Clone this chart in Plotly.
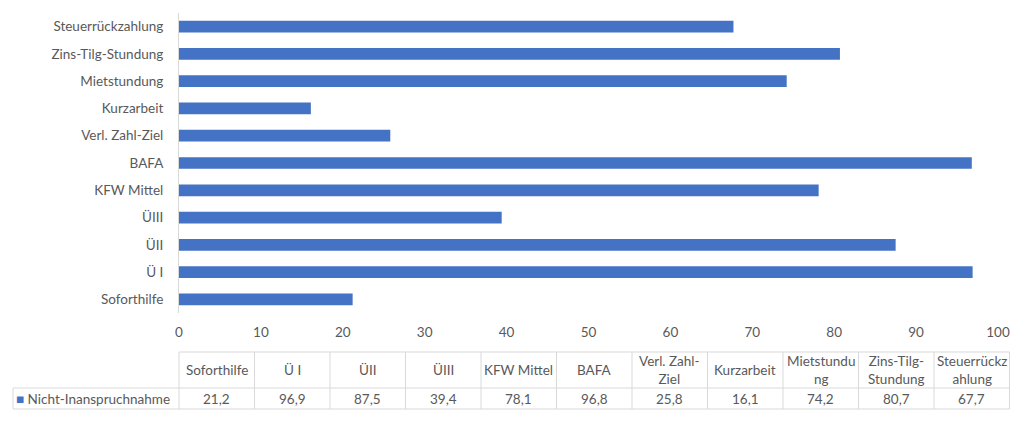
import plotly.graph_objects as go

categories = ["Soforthilfe", "Ü I", "ÜII", "ÜIII", "KFW Mittel", "BAFA",
              "Verl. Zahl-Ziel", "Kurzarbeit", "Mietstundung",
              "Zins-Tilg-Stundung", "Steuerrückzahlung"]
header_labels = ["Soforthilfe", "Ü I", "ÜII", "ÜIII", "KFW Mittel", "BAFA",
                 "Verl. Zahl-<br>Ziel", "Kurzarbeit", "Mietstundu<br>ng",
                 "Zins-Tilg-<br>Stundung", "Steuerrückz<br>ahlung"]
values = [21.2, 96.9, 87.5, 39.4, 78.1, 96.8, 25.8, 16.1, 74.2, 80.7, 67.7]
series_name = "Nicht-Inanspruchnahme"
x_ticks = [0, 10, 20, 30, 40, 50, 60, 70, 80, 90, 100]

BAR = "#4472C4"
TXT = "#595959"
GRID = "#d9d9d9"
FONT = "Lato"
FS = 13.5

W, H = 1024, 423
L, R, T, B = 179, 26, 13, 110
pw, ph = W - L - R, H - T - B

def px_x(x):
    return (x - L) / pw

def px_y(y):
    return (H - B - y) / ph

fig = go.Figure()
fig.add_trace(go.Bar(
    y=categories, x=values, orientation="h",
    marker=dict(color=BAR, line=dict(width=0)),
    name=series_name, hoverinfo="x+y",
))

# table geometry
col_w = 75.5
tbl_left = 13
tbl_x0 = 179
tbl_top, tbl_mid, tbl_bot = 352, 388, 409
n = len(categories)
tbl_right = tbl_x0 + n * col_w

shapes = []
line = dict(color=GRID, width=1)
shapes.append(dict(type="line", xref="paper", yref="paper",
                   x0=px_x(tbl_x0), x1=px_x(tbl_right), y0=px_y(tbl_top), y1=px_y(tbl_top), line=line))
for yy in (tbl_mid, tbl_bot):
    shapes.append(dict(type="line", xref="paper", yref="paper",
                       x0=px_x(tbl_left), x1=px_x(tbl_right), y0=px_y(yy), y1=px_y(yy), line=line))
shapes.append(dict(type="line", xref="paper", yref="paper",
                   x0=px_x(tbl_left), x1=px_x(tbl_left), y0=px_y(tbl_mid), y1=px_y(tbl_bot), line=line))
for i in range(n + 1):
    xx = tbl_x0 + i * col_w
    shapes.append(dict(type="line", xref="paper", yref="paper",
                       x0=px_x(xx), x1=px_x(xx), y0=px_y(tbl_top), y1=px_y(tbl_bot), line=line))

annotations = []
for i, (h, v) in enumerate(zip(header_labels, values)):
    cx = tbl_x0 + (i + 0.5) * col_w
    annotations.append(dict(xref="paper", yref="paper", x=px_x(cx), y=px_y((tbl_top + tbl_mid) / 2),
                            text=h, showarrow=False, xanchor="center", yanchor="middle",
                            font=dict(family=FONT, size=FS, color=TXT)))
    annotations.append(dict(xref="paper", yref="paper", x=px_x(cx), y=px_y((tbl_mid + tbl_bot) / 2),
                            text=f"{v:.1f}".replace(".", ","), showarrow=False,
                            xanchor="center", yanchor="middle",
                            font=dict(family=FONT, size=FS, color=TXT)))
annotations.append(dict(xref="paper", yref="paper", x=px_x(tbl_left + 1), y=px_y((tbl_mid + tbl_bot) / 2),
                        text=f"<span style='color:{BAR}'>■</span> {series_name}", showarrow=False,
                        xanchor="left", yanchor="middle",
                        font=dict(family=FONT, size=FS, color=TXT)))

fig.update_layout(
    width=W, height=H,
    margin=dict(l=L, r=R, t=T, b=B),
    paper_bgcolor="white", plot_bgcolor="white",
    bargap=0.57, showlegend=False,
    font=dict(family=FONT, size=FS, color=TXT),
    shapes=shapes, annotations=annotations,
    xaxis=dict(range=[0, 100], tickvals=x_ticks, showgrid=False, zeroline=False,
               showline=False, ticks="", ticklabelstandoff=9,
               tickfont=dict(family=FONT, size=FS, color=TXT)),
    yaxis=dict(categoryorder="array", categoryarray=categories, range=[-0.5, n - 0.5],
               showgrid=False, zeroline=False, showline=True, linecolor=GRID, linewidth=1,
               ticks="", ticklabelstandoff=12,
               tickfont=dict(family=FONT, size=FS, color=TXT)),
)

fig.write_html("out.html")
